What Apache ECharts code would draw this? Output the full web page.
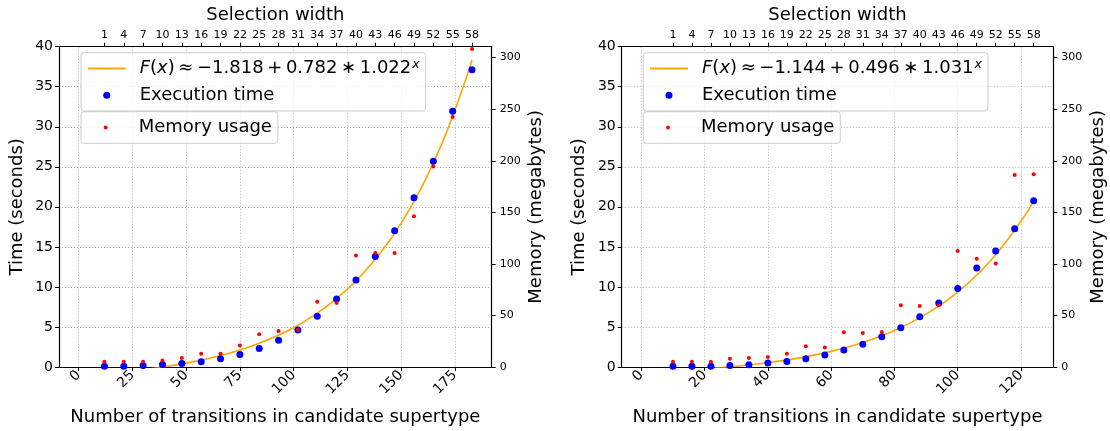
<!DOCTYPE html>
<html><head><meta charset="utf-8">
<script src="https://cdn.jsdelivr.net/npm/echarts@6/dist/echarts.min.js"></script>
<style>html,body{margin:0;padding:0;background:#fff}#c{width:1110px;height:431px}</style>
</head><body><div id="c"></div>
<script>
// ---------------- data ----------------
const leftTransitions = [12,21,30,39,48,57,66,75,84,93,102,111,120,129,138,147,156,165,174,183];
const leftTime = [0.09,0.1,0.2,0.3,0.45,0.66,1.03,1.57,2.32,3.35,4.63,6.33,8.48,10.88,13.81,17.0,21.14,25.69,31.93,37.11];
const leftMemory = [5.1,5.1,5.1,6.4,8.7,12.8,12.8,20.9,31.8,35.0,36.0,63.3,62.0,108.2,110.5,110.5,146.2,194.4,242.5,308.4];
const leftFitX = [0,10,20,30,40,50,60,70,80,90,100,110,120,130,140,150,160,170,180,183];
const leftFitY = [-1.04,-0.85,-0.62,-0.33,0.03,0.48,1.03,1.71,2.56,3.61,4.91,6.53,8.53,11.02,14.1,17.93,22.67,28.55,35.84,38.35];

const rightTransitions = [10,16,22,28,34,40,46,52,58,64,70,76,82,88,94,100,106,112,118,124];
const rightTime = [0.09,0.09,0.1,0.2,0.29,0.5,0.7,1.03,1.49,2.11,2.84,3.77,4.9,6.26,8.0,9.8,12.35,14.48,17.25,20.76];
const rightMemory = [5.1,5.1,5.1,8.0,8.7,9.6,12.8,20.2,19.0,33.7,33.0,33.9,60.0,59.1,60.0,112.4,105.0,100.3,186.3,187.0];
const rightFitX = [0,10,20,30,40,50,60,70,80,90,100,110,120,124];
const rightFitY = [-0.65,-0.47,-0.23,0.1,0.54,1.14,1.95,3.06,4.56,6.6,9.36,13.11,18.2,20.71];

const widthTicks = [1,4,7,10,13,16,19,22,25,28,31,34,37,40,43,46,49,52,55,58];
const leftXTicks = [0,25,50,75,100,125,150,175];
const rightXTicks = [0,20,40,60,80,100,120];
const memTicks = [0,50,100,150,200,250,300];

const fitLeftParts = ['\u22121.818','0.782','1.022'];
const fitRightParts = ['\u22121.144','0.496','1.031'];
const fitNameL = 'F(x) \u2248 \u22121.818 + 0.782 * 1.022^x';
const fitNameR = 'F(x) \u2248 \u22121.144 + 0.496 * 1.031^x';

// ---------------- chart ----------------
const FF = 'DejaVu Sans';
const pairs = (xs, ys) => xs.map((x, i) => [x, ys[i]]);
const grids = [
  {left: 59, right: 618.3, top: 46.7, bottom: 62},
  {left: 621.7, right: 56.7, top: 46.7, bottom: 62}
];
const axLine = {show: true, onZero: false, lineStyle: {color: '#000', width: 1.2}};
const tickStyle = {color: '#000', width: 1};
const gridLine = {show: true, lineStyle: {color: '#b0b0b0', width: 1, type: [1, 2]}};

function bottomX(gi, min, max, ticks) {
  return {type: 'value', gridIndex: gi, position: 'bottom', min, max,
    name: 'Number of transitions in candidate supertype', nameLocation: 'middle', nameGap: 41,
    nameTextStyle: {fontSize: 18, color: '#000', fontFamily: FF},
    axisLine: axLine,
    axisTick: {show: true, inside: false, length: 4, customValues: ticks, lineStyle: tickStyle},
    axisLabel: {customValues: ticks, rotate: 45, fontSize: 14, color: '#000', margin: 6, fontFamily: FF},
    splitLine: gridLine};
}
function topX(gi, min, max) {
  return {type: 'value', gridIndex: gi, position: 'top', min, max,
    name: 'Selection width', nameLocation: 'middle', nameGap: 22,
    nameTextStyle: {fontSize: 18, color: '#000', fontFamily: FF},
    axisLine: axLine,
    axisTick: {show: true, inside: false, length: 4, customValues: widthTicks, lineStyle: tickStyle},
    axisLabel: {customValues: widthTicks, fontSize: 11, color: '#000', margin: 6, fontFamily: FF},
    splitLine: {show: false}};
}
function timeY(gi) {
  return {type: 'value', gridIndex: gi, position: 'left', min: 0, max: 40, interval: 5,
    name: 'Time (seconds)', nameLocation: 'middle', nameGap: 33, nameRotate: 90,
    nameTextStyle: {fontSize: 18, color: '#000', fontFamily: FF},
    axisLine: axLine,
    axisTick: {show: true, inside: false, length: 4, lineStyle: tickStyle},
    axisLabel: {fontSize: 14, color: '#000', margin: 6, fontFamily: FF},
    splitLine: gridLine};
}
function memY(gi) {
  return {type: 'value', gridIndex: gi, position: 'right', min: 0, max: 310.6,
    name: 'Memory (megabytes)', nameLocation: 'middle', nameGap: 36, nameRotate: 90,
    nameTextStyle: {fontSize: 18, color: '#000', fontFamily: FF},
    axisLine: axLine,
    axisTick: {show: true, inside: false, length: 4, customValues: memTicks, lineStyle: tickStyle},
    axisLabel: {customValues: memTicks, fontSize: 11, color: '#000', margin: 8, fontFamily: FF},
    splitLine: {show: false}};
}

const rich = {
  n: {fontSize: 18, fontFamily: FF, color: '#000', lineHeight: 20},
  i: {fontSize: 18, fontFamily: FF, fontStyle: 'italic', color: '#000', lineHeight: 20},
  s: {fontSize: 12.5, fontFamily: FF, fontStyle: 'italic', color: '#000', lineHeight: 20, verticalAlign: 'top', padding: [0, 0, 6, 1]}
};
function fitLabel(p) {
  const t = '\u2009';
  return '{i|F}{n|(}{i|x}{n|)' + t + '\u2248' + t + p[0] + t + '+' + t + p[1] + t + '\u2217' + t + p[2] + '}{s|x}';
}
// legend icons: a dot centred in a full 38x7 box (invisible corner points keep the box width)
const DOT_BIG = 'path://M0,0L0,0M38,7L38,7M15.5,3.5a3.5,3.5 0 1,0 7,0a3.5,3.5 0 1,0 -7,0Z';
const DOT_SMALL = 'path://M0,0L0,0M38,7L38,7M17,3.5a2,2 0 1,0 4,0a2,2 0 1,0 -4,0Z';
function legendPair(left, fitName, parts) {
  const base = {
    orient: 'vertical', left: left, selectedMode: false,
    itemWidth: 38, itemHeight: 7, itemGap: 6.7, padding: [5.8, 6, 5.8, 5.7],
    borderColor: '#cccccc', borderWidth: 1, borderRadius: 3,
    backgroundColor: 'rgba(255,255,255,0.8)',
    symbolKeepAspect: true,
    formatter: name => name === fitName ? fitLabel(parts) : name,
    textStyle: {fontSize: 18, fontFamily: FF, color: '#000', lineHeight: 20, padding: [0, 0, 0, 9], rich: rich}
  };
  return [
    Object.assign({}, base, {top: 52.7,
      data: [{name: fitName, itemStyle: {color: 'rgba(0,0,0,0)', borderWidth: 0}},
             {name: 'Execution time', icon: DOT_BIG, itemStyle: {borderWidth: 0}}]}),
    Object.assign({}, base, {top: 111.7,
      data: [{name: 'Memory usage', icon: DOT_SMALL, itemStyle: {color: '#ff0000', borderWidth: 0}}]})
  ];
}

function panelSeries(xi, yi, fitName, fx, fy, tx, tt, tm) {
  return [
    {type: 'line', name: fitName, xAxisIndex: xi, yAxisIndex: yi, data: pairs(fx, fy),
      smooth: 0.4, symbol: 'none', clip: true, lineStyle: {color: '#ffa500', width: 1.6},
      itemStyle: {color: '#ffa500'}, z: 2},
    {type: 'scatter', name: 'Execution time', xAxisIndex: xi, yAxisIndex: yi, data: pairs(tx, tt),
      symbol: 'circle', symbolSize: 7, itemStyle: {color: '#0000ff', opacity: 1}, z: 3},
    {type: 'scatter', name: 'Memory usage', xAxisIndex: xi, yAxisIndex: yi + 1, data: pairs(tx, tm),
      symbol: 'circle', symbolSize: 4, itemStyle: {color: '#ff0000', opacity: 1}, z: 4}
  ];
}

const option = {
  animation: false,
  backgroundColor: '#fff',
  textStyle: {fontFamily: FF},
  grid: grids,
  xAxis: [bottomX(0, -9.15, 192.15, leftXTicks), topX(0, -6.05, 61.05),
          bottomX(1, -6.2, 130.2, rightXTicks), topX(1, -7.1, 61.1)],
  yAxis: [timeY(0), memY(0), timeY(1), memY(1)],
  legend: legendPair(81, fitNameL, fitLeftParts).concat(legendPair(643.3, fitNameR, fitRightParts)),
  series: panelSeries(0, 0, fitNameL, leftFitX, leftFitY, leftTransitions, leftTime, leftMemory)
    .concat(panelSeries(2, 2, fitNameR, rightFitX, rightFitY, rightTransitions, rightTime, rightMemory))
};
const chart = echarts.init(document.getElementById('c'), null, {renderer: 'canvas'});
chart.setOption(option);
</script></body></html>
